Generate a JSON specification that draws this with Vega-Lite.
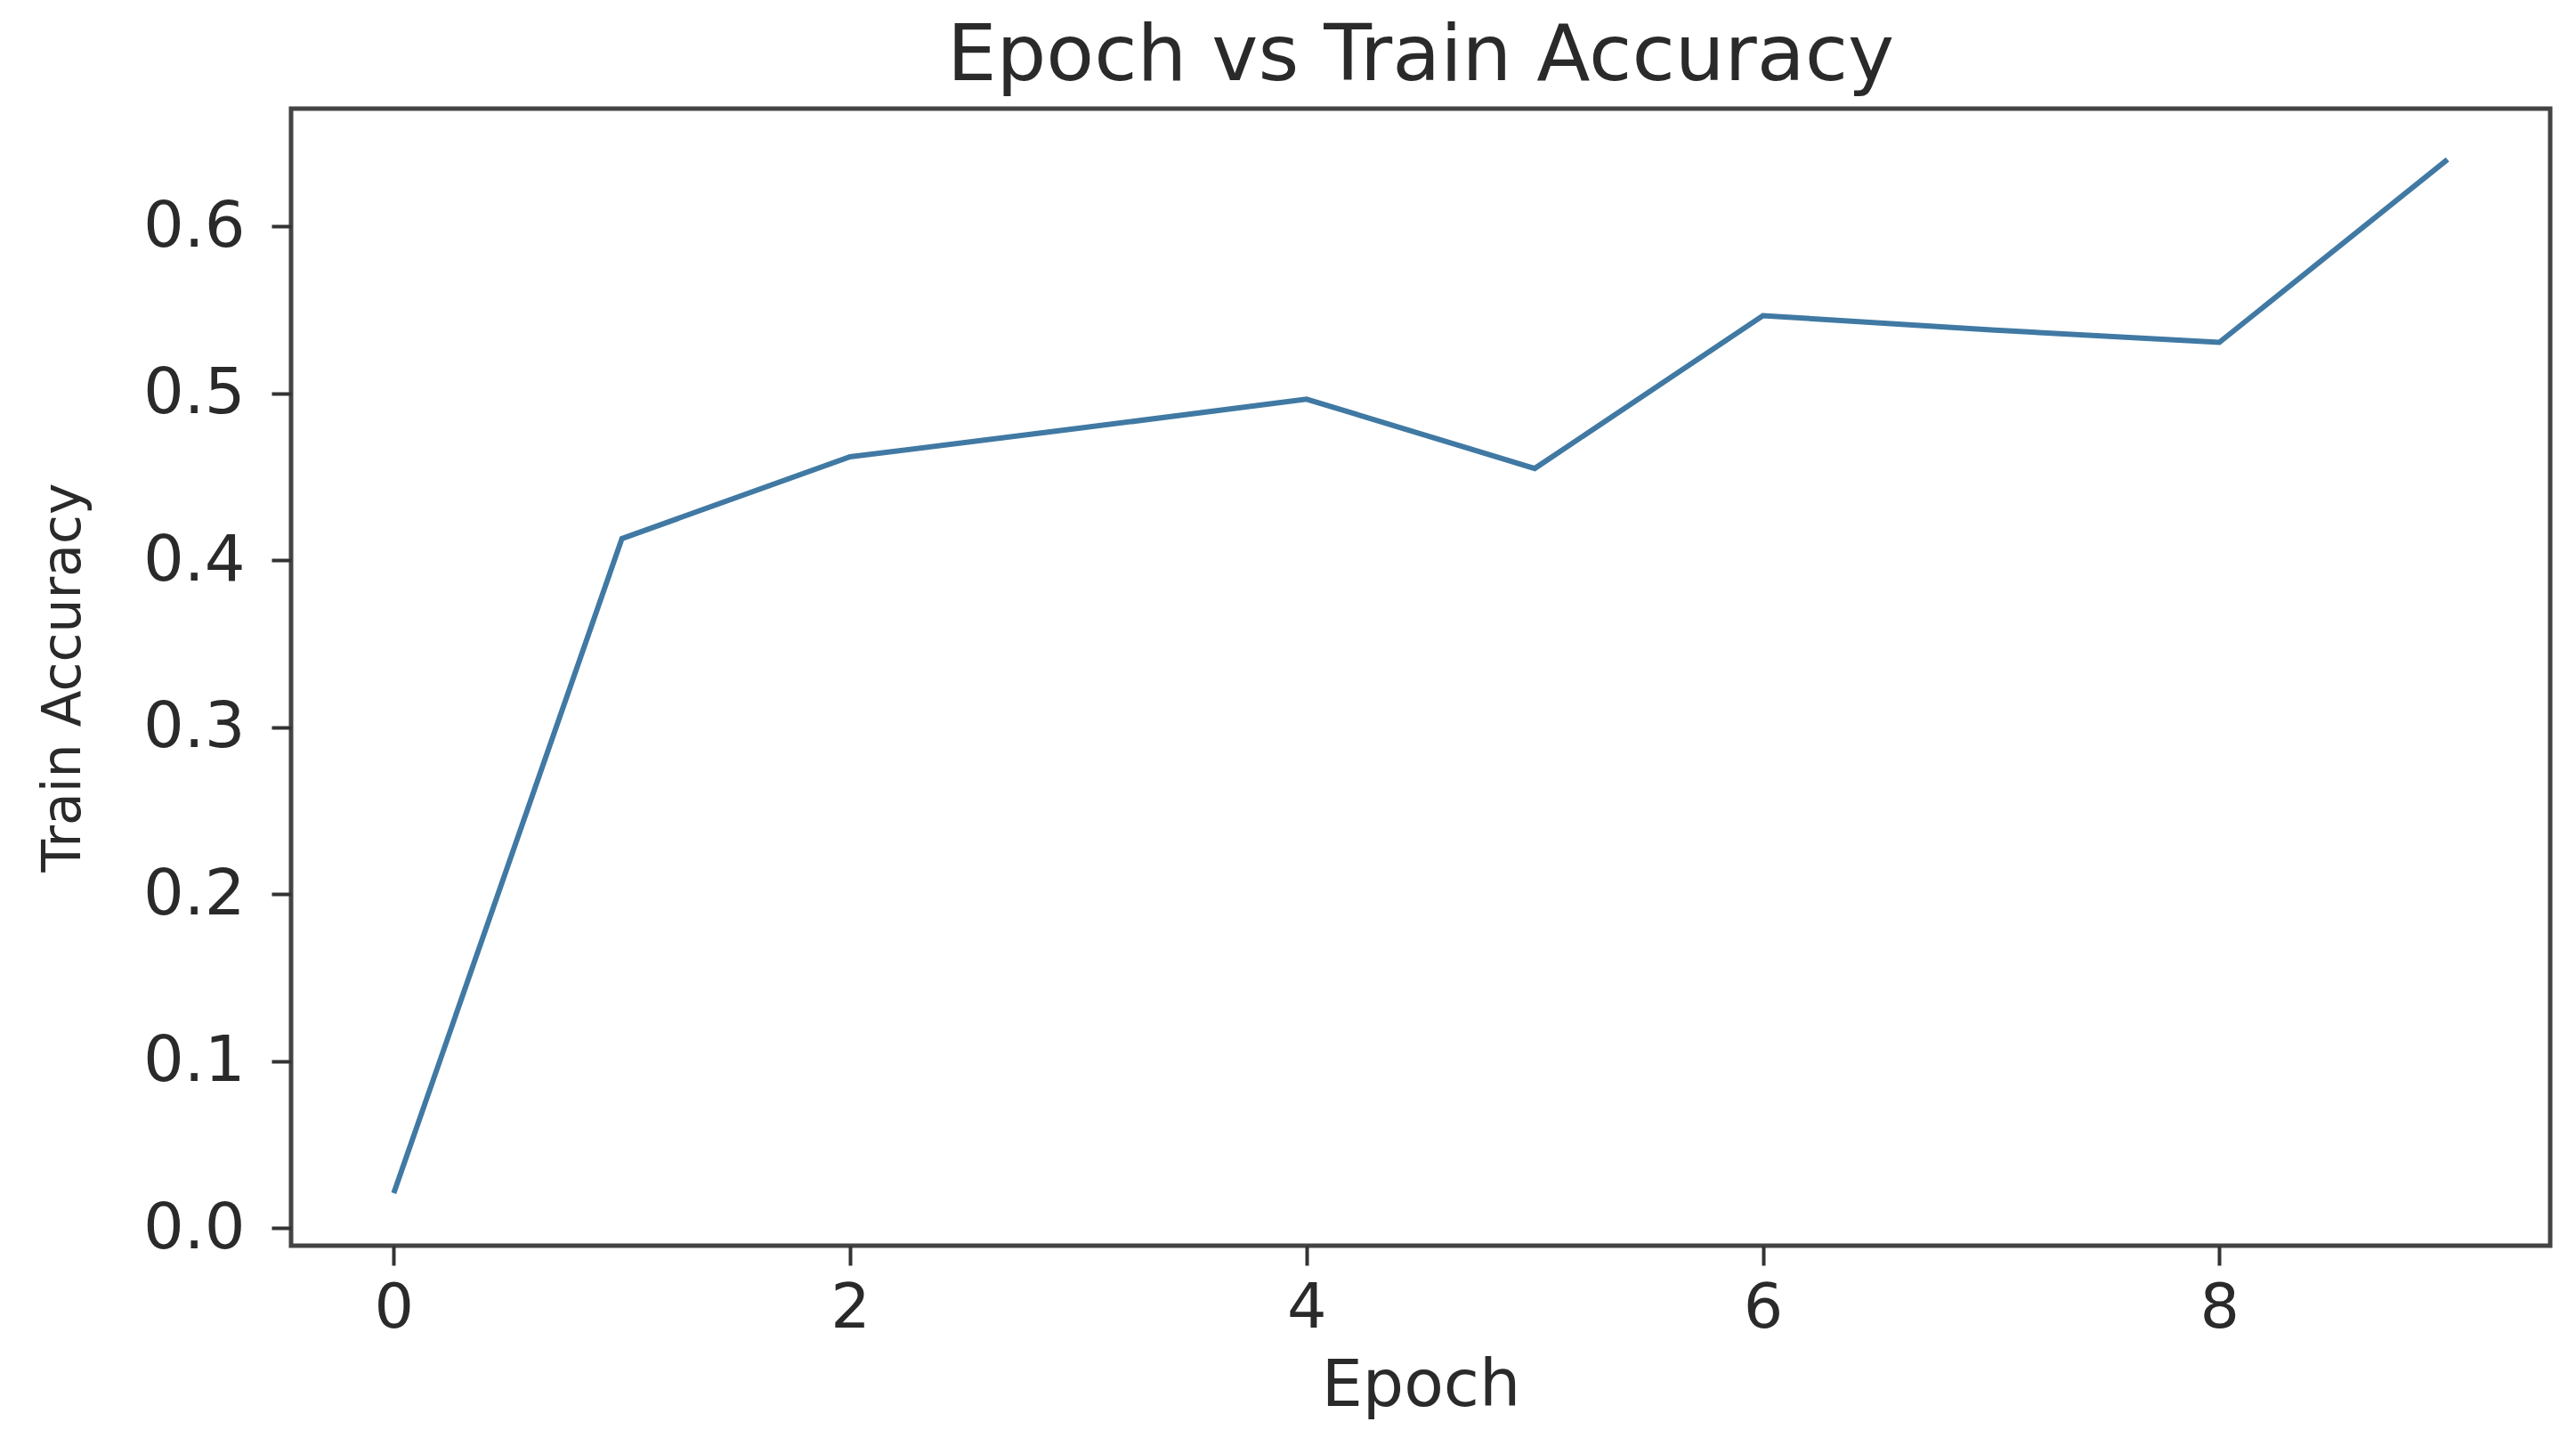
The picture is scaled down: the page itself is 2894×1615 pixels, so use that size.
{
  "$schema": "https://vega.github.io/schema/vega-lite/v6.json",
  "autosize": "none",
  "width": 2538,
  "height": 1277,
  "padding": {"left": 327, "top": 122, "right": 29, "bottom": 216},
  "background": "white",
  "title": {
    "text": "Epoch vs Train Accuracy",
    "font": "DejaVu Sans",
    "fontSize": 88,
    "fontWeight": "normal",
    "color": "#2a2a2a",
    "offset": 14,
    "anchor": "middle"
  },
  "data": {
    "values": [
      {"epoch": 0, "acc": 0.021},
      {"epoch": 1, "acc": 0.413},
      {"epoch": 2, "acc": 0.462},
      {"epoch": 3, "acc": 0.479},
      {"epoch": 4, "acc": 0.4965},
      {"epoch": 5, "acc": 0.455},
      {"epoch": 6, "acc": 0.5465},
      {"epoch": 7, "acc": 0.538},
      {"epoch": 8, "acc": 0.5305},
      {"epoch": 9, "acc": 0.640}
    ]
  },
  "mark": {"type": "line", "color": "#4079a3", "strokeWidth": 6},
  "encoding": {
    "x": {
      "field": "epoch",
      "type": "quantitative",
      "scale": {"domain": [-0.45, 9.45], "nice": false, "zero": false},
      "axis": {
        "title": "Epoch",
        "values": [0, 2, 4, 6, 8],
        "format": "d",
        "grid": false,
        "domain": false,
        "tickSize": 22,
        "tickWidth": 4,
        "tickColor": "#333",
        "labelFont": "DejaVu Sans",
        "labelFontSize": 70,
        "labelColor": "#2a2a2a",
        "labelPadding": 14,
        "titleFont": "DejaVu Sans",
        "titleFontSize": 73,
        "titleFontWeight": "normal",
        "titleColor": "#2a2a2a",
        "titlePadding": 16
      }
    },
    "y": {
      "field": "acc",
      "type": "quantitative",
      "scale": {"domain": [-0.0105, 0.6705], "nice": false, "zero": false},
      "axis": {
        "title": "Train Accuracy",
        "values": [0, 0.1, 0.2, 0.3, 0.4, 0.5, 0.6],
        "format": ".1f",
        "grid": false,
        "domain": false,
        "tickSize": 22,
        "tickWidth": 4,
        "tickColor": "#333",
        "labelFont": "DejaVu Sans",
        "labelFontSize": 72,
        "labelColor": "#2a2a2a",
        "labelPadding": 30,
        "titleFont": "DejaVu Sans",
        "titleFontSize": 60,
        "titleFontWeight": "normal",
        "titleColor": "#2a2a2a",
        "titlePadding": 58
      }
    }
  },
  "config": {
    "view": {"stroke": "#444", "strokeWidth": 5}
  }
}
